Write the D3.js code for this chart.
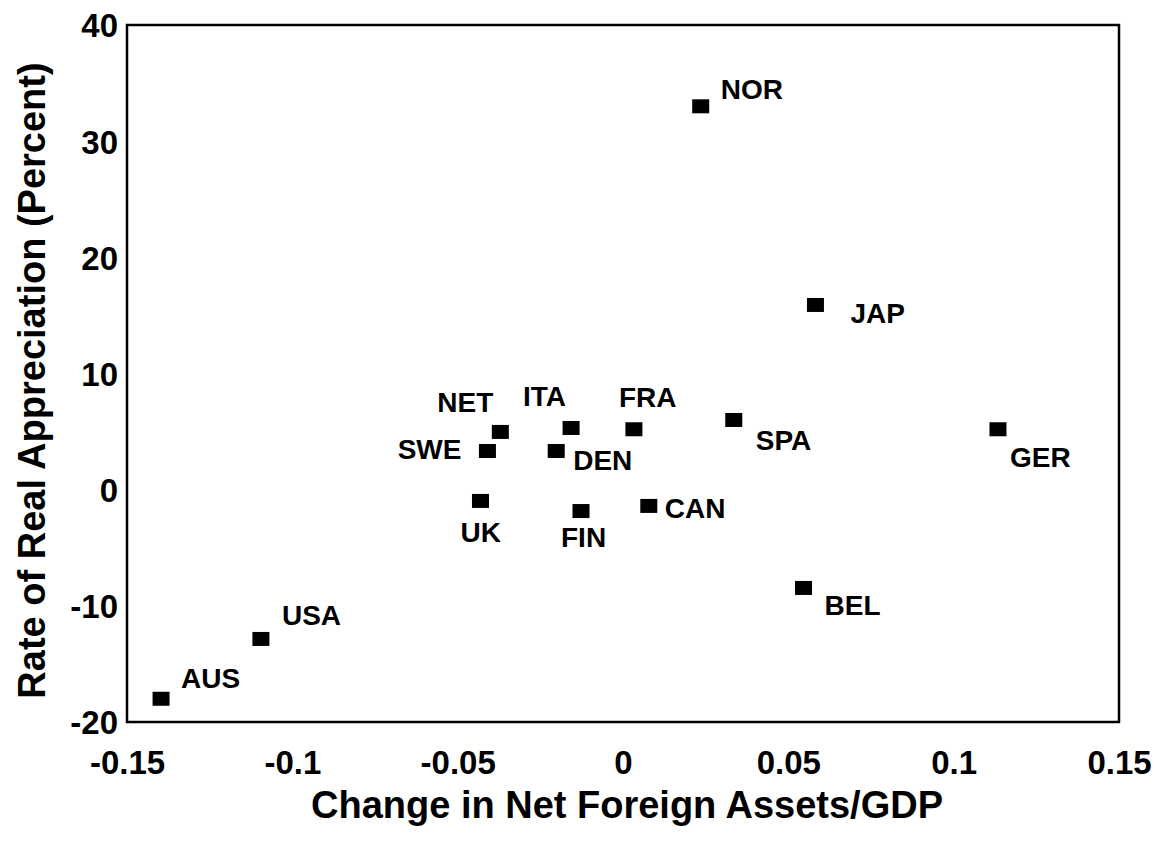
<!DOCTYPE html>
<html>
<head>
<meta charset="utf-8">
<script src="https://cdn.jsdelivr.net/npm/d3@7"></script>
<style>
  body { margin: 0; background: #fff; }
  svg text { font-family: "Liberation Sans", Arial, Helvetica, sans-serif; font-weight: bold; fill: #000; }
</style>
</head>
<body>
<svg id="chart" width="1167" height="845"></svg>
<script>
// data
const countries = ["AUS", "USA", "NOR", "JAP", "SPA", "GER", "BEL", "NET", "SWE", "ITA", "DEN", "FRA", "UK", "FIN", "CAN"];
const nfaChange = [-0.1397, -0.1095, 0.0235, 0.0582, 0.0335, 0.1134, 0.0546, -0.0371, -0.041, -0.0157, -0.0202, 0.0033, -0.0431, -0.0127, 0.0078];
const realAppreciation = [-18.0, -12.85, 33.0, 15.9, 6.0, 5.2, -8.46, 4.97, 3.33, 5.31, 3.33, 5.2, -0.97, -1.84, -1.4];
const xTicks = [-0.15, -0.1, -0.05, 0, 0.05, 0.1, 0.15];
const yTicks = [-20, -10, 0, 10, 20, 30, 40];

// label placement relative to the marker (pixels)
const labelOffset = {
  AUS: [20, -11, "start"], USA: [21, -14, "start"], NOR: [20, -7, "start"],
  JAP: [35, 18, "start"], SPA: [22, 30, "start"], GER: [12, 38, "start"],
  BEL: [21, 27, "start"], NET: [-7, -20, "end"], SWE: [-26, 8, "end"],
  ITA: [-5, -22, "end"], DEN: [17, 19, "start"], FRA: [-15, -22, "start"],
  UK: [-20, 41, "start"], FIN: [-20, 36, "start"], CAN: [16, 12, "start"]
};

const points = countries.map((c, i) => ({ name: c, x: nfaChange[i], y: realAppreciation[i] }));

const svg = d3.select("#chart");
const plotLeft = 127, plotRight = 1119, plotTop = 25, plotBottom = 722;

const x = d3.scaleLinear().domain([-0.15, 0.15]).range([plotLeft, plotRight]);
const y = d3.scaleLinear().domain([-20, 40]).range([plotBottom, plotTop]);

// frame
svg.append("rect")
  .attr("x", plotLeft).attr("y", plotTop)
  .attr("width", plotRight - plotLeft).attr("height", plotBottom - plotTop)
  .attr("fill", "none").attr("stroke", "#000").attr("stroke-width", 2.5);

// axes (labels only, no tick marks)
const xAxis = svg.append("g")
  .attr("transform", `translate(0,${plotBottom})`)
  .call(d3.axisBottom(x).tickValues(xTicks).tickSize(0).tickFormat(d => String(d)));
xAxis.select(".domain").remove();
xAxis.selectAll("text")
  .attr("y", 52).attr("dy", 0)
  .style("font-size", "33px");

const yAxis = svg.append("g")
  .attr("transform", `translate(${plotLeft},0)`)
  .call(d3.axisLeft(y).tickValues(yTicks).tickSize(0).tickFormat(d => String(d)));
yAxis.select(".domain").remove();
yAxis.selectAll("text")
  .attr("x", -9).attr("dy", "0.36em")
  .style("font-size", "33px");
svg.selectAll("g").attr("font-family", null).attr("font-size", null);

// markers
const ms = [17, 14];
svg.append("g").selectAll("rect")
  .data(points)
  .join("rect")
  .attr("x", d => x(d.x) - ms[0] / 2)
  .attr("y", d => y(d.y) - ms[1] / 2)
  .attr("width", ms[0]).attr("height", ms[1])
  .attr("fill", "#000");

// country labels
svg.append("g").selectAll("text")
  .data(points)
  .join("text")
  .attr("x", d => x(d.x) + labelOffset[d.name][0])
  .attr("y", d => y(d.y) + labelOffset[d.name][1])
  .attr("text-anchor", d => labelOffset[d.name][2])
  .style("font-size", "28px")
  .text(d => d.name);

// axis titles
svg.append("text")
  .attr("x", (plotLeft + plotRight) / 2 + 4).attr("y", 818)
  .attr("text-anchor", "middle")
  .style("font-size", "38px")
  .text("Change in Net Foreign Assets/GDP");

svg.append("text")
  .attr("transform", `translate(45,${(plotTop + plotBottom) / 2 + 7}) rotate(-90)`)
  .attr("text-anchor", "middle")
  .style("font-size", "38px")
  .text("Rate of Real Appreciation (Percent)");
</script>
</body>
</html>
